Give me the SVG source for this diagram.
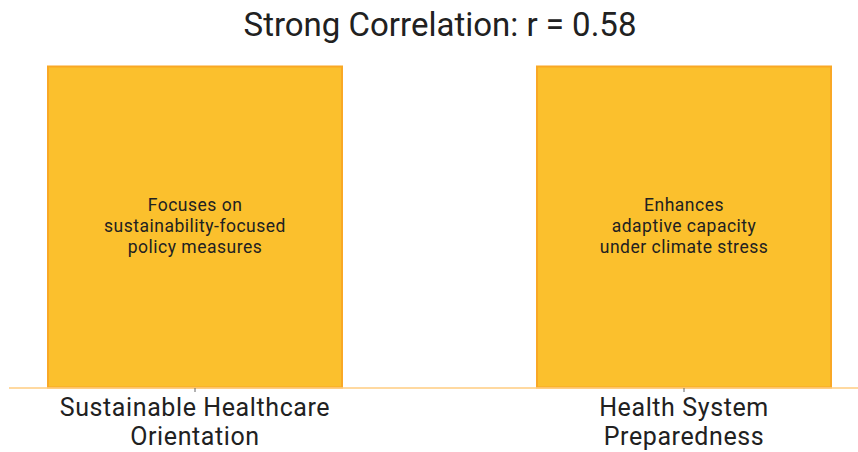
<svg xmlns="http://www.w3.org/2000/svg" width="858" height="452" viewBox="0 0 858 452">
<style>
text{font-family:Roboto,"Liberation Sans",sans-serif;fill:#212121;text-anchor:middle}
.bar{fill:#FBC02D;stroke:#F9A825;stroke-width:2}
.title{font-size:33px}
.lab{font-size:25px;letter-spacing:0.6px}
.in{font-size:17.5px;letter-spacing:0.5px}
</style>
<rect width="858" height="452" fill="#fff"/>
<text class="title" x="440" y="36">Strong Correlation: r = 0.58</text>
<g id="node-sustainable">
<rect class="bar" x="48" y="66.5" width="294" height="321"/>
<text class="in" x="195" y="211">Focuses on</text>
<text class="in" x="195" y="232">sustainability-focused</text>
<text class="in" x="195" y="253">policy measures</text>
<text class="lab" x="195" y="416">Sustainable Healthcare</text>
<text class="lab" x="195" y="445">Orientation</text>
</g>
<g id="node-preparedness">
<rect class="bar" x="537" y="66.5" width="294" height="321"/>
<text class="in" x="684" y="211">Enhances</text>
<text class="in" x="684" y="232">adaptive capacity</text>
<text class="in" x="684" y="253">under climate stress</text>
<text class="lab" x="684" y="416">Health System</text>
<text class="lab" x="684" y="445">Preparedness</text>
</g>
<g id="connectors">
<line x1="9" y1="388" x2="858" y2="388" stroke="#FFCC80" stroke-width="1.5"/>
<line x1="195" y1="388" x2="195" y2="392" stroke="#666" stroke-width="1"/>
<line x1="684" y1="388" x2="684" y2="392" stroke="#666" stroke-width="1"/>
</g>
</svg>
